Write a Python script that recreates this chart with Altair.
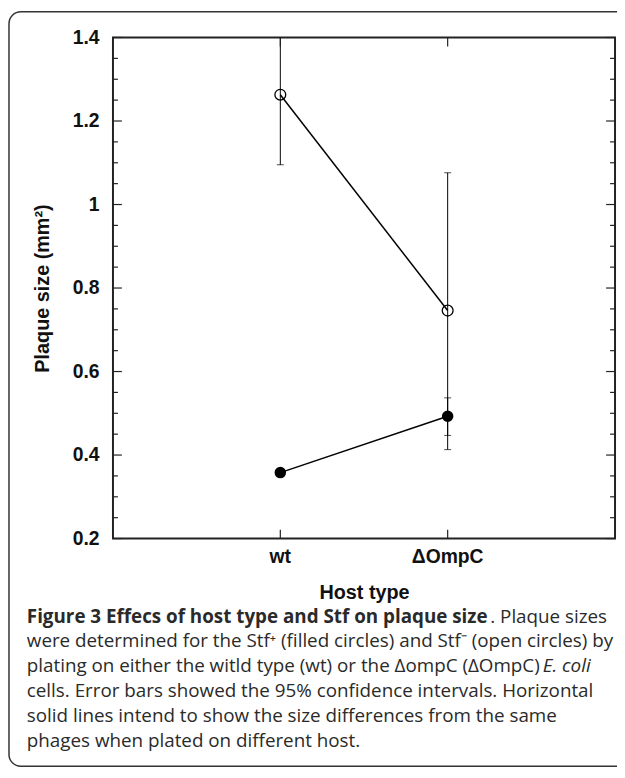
import altair as alt
import pandas as pd

# ---------------- data ----------------
hosts = ["wt", "ΔOmpC"]
# Stf- (open circles)
open_mean = [1.263, 0.746]
open_lo = [1.095, 0.413]
open_hi = [1.431, 1.076]
# Stf+ (filled circles)
filled_mean = [0.358, 0.493]
filled_lo = [0.358, 0.447]
filled_hi = [0.358, 0.537]

y_major = [0.2, 0.4, 0.6, 0.8, 1.0, 1.2, 1.4]
y_minor = [0.25, 0.3, 0.35, 0.45, 0.5, 0.55, 0.65, 0.7, 0.75,
           0.85, 0.9, 0.95, 1.05, 1.1, 1.15, 1.25, 1.3, 1.35]

y_title = "Plaque size (mm²)"
x_title = "Host type"

cap1_bold = "Figure 3 Effecs of host type and Stf on plaque size"
cap1_rest = ". Plaque sizes"
cap2 = "were determined for the Stf⁺ (filled circles) and Stf⁻ (open circles) by"
cap3_rest = "plating on either the witld type (wt) or the ΔompC (ΔOmpC)"
cap3_ital = "E. coli"
cap4 = "cells. Error bars showed the 95% confidence intervals. Horizontal"
cap5 = "solid lines intend to show the size differences from the same"
cap6 = "phages when plated on different host."

# ---------------- tables ----------------
pts = pd.DataFrame({
    "host": hosts * 2,
    "series": ["Stf-"] * 2 + ["Stf+"] * 2,
    "mean": open_mean + filled_mean,
    "lo": open_lo + filled_lo,
    "hi": open_hi + filled_hi,
})
caps = pd.DataFrame({
    "host": hosts * 4,
    "mean": open_lo + open_hi + filled_lo + filled_hi,
})
ymaj = pd.DataFrame({"mean": y_major})
ymin = pd.DataFrame({"mean": y_minor})
xt = pd.DataFrame({"host": hosts})
one = pd.DataFrame({"t": [0]})

W, H = 507, 506
FONT = "Liberation Sans"
CFONT = "Open Sans"
CSIZE = 19

xs = alt.Scale(domain=hosts, padding=1)
ys = alt.Scale(domain=[0.2, 1.4], nice=False, zero=False)

XAX = alt.Axis(title=x_title, labelAngle=0, ticks=False, domain=False,
               labelFont=FONT, labelFontSize=19.5, labelFontWeight="bold",
               labelColor="#111", labelPadding=9,
               titleFont=FONT, titleFontSize=20, titleFontWeight="bold",
               titleColor="#111", titlePadding=17)
YAX = alt.Axis(title=y_title, values=y_major, format=".1~f",
               ticks=False, domain=False, grid=False,
               labelFont=FONT, labelFontSize=19.5, labelFontWeight="bold",
               labelColor="#111", labelPadding=14,
               titleFont=FONT, titleFontSize=20, titleFontWeight="bold",
               titleColor="#111", titlePadding=20)

X = alt.X("host:N", scale=xs, sort=hosts, axis=XAX, title=x_title)


def Y(field):
    return alt.Y(field, scale=ys, axis=YAX, title=y_title)


base = alt.Chart(pts)

err = base.mark_rule(color="black", strokeWidth=1, clip=True).encode(
    x=X, y=Y("lo:Q"), y2="hi:Q")

capm = alt.Chart(caps).mark_tick(color="black", thickness=1, size=7,
                                 orient="horizontal", clip=True).encode(
    x=X, y=Y("mean:Q"))

lines = base.mark_line(color="black", strokeWidth=1.5).encode(
    x=X, y=Y("mean:Q"), detail="series:N")

openpts = base.transform_filter(alt.datum.series == "Stf-").mark_point(
    shape="circle", filled=False, color="black", size=120, strokeWidth=1.3,
    opacity=1).encode(x=X, y=Y("mean:Q"))

fillpts = base.transform_filter(alt.datum.series == "Stf+").mark_point(
    shape="circle", filled=True, color="black", size=135, opacity=1).encode(
    x=X, y=Y("mean:Q"))

# inward ticks
tl_maj = alt.Chart(ymaj).mark_rule(color="#222", strokeWidth=1.2).encode(
    y=Y("mean:Q"), x=alt.value(0), x2=alt.value(9))
tl_min = alt.Chart(ymin).mark_rule(color="#222", strokeWidth=1.2).encode(
    y=Y("mean:Q"), x=alt.value(0), x2=alt.value(5))
tr_maj = alt.Chart(ymaj).mark_rule(color="#222", strokeWidth=1.2).encode(
    y=Y("mean:Q"), x=alt.value(W), x2=alt.value(W - 9))
tr_min = alt.Chart(ymin).mark_rule(color="#222", strokeWidth=1.2).encode(
    y=Y("mean:Q"), x=alt.value(W), x2=alt.value(W - 5))
tb = alt.Chart(xt).mark_rule(color="#222", strokeWidth=1.2).encode(
    x=X, y=alt.value(H), y2=alt.value(H - 9))
tt = alt.Chart(xt).mark_rule(color="#222", strokeWidth=1.2).encode(
    x=X, y=alt.value(0), y2=alt.value(9))

# frame
frame = alt.Chart(one).mark_rect(fillOpacity=0, stroke="#333", strokeWidth=1.5,
                                 cornerRadius=12).encode(
    x=alt.value(-105), x2=alt.value(560), y=alt.value(-26), y2=alt.value(736))


def txt(s, x, y, align="left", weight="normal", style="normal"):
    return alt.Chart(pd.DataFrame({"s": [s]})).mark_text(
        align=align, baseline="alphabetic", font=CFONT, fontSize=CSIZE,
        fontWeight=weight, fontStyle=style, color="#2a2a2a").encode(
        text="s:N", x=alt.value(x), y=alt.value(y))


L = -87
captions = [
    txt(cap1_bold, L, 591, weight="bold"),
    txt(cap1_rest, 381, 591),
    txt(cap2, L, 616),
    txt(cap3_rest, L, 641),
    txt(cap3_ital, 434, 641, style="italic"),
    txt(cap4, L, 666),
    txt(cap5, L, 691),
    txt(cap6, L, 716),
]

chart = alt.layer(
    err, capm, lines, openpts, fillpts,
    tl_maj, tl_min, tr_maj, tr_min, tb, tt, frame, *captions
).properties(
    width=W, height=H,
    autosize=alt.AutoSizeParams(type="none"),
    padding={"left": 106, "top": 26, "right": 2, "bottom": 236},
    background="white",
).configure_view(stroke="#222", strokeWidth=2)

chart.save("out.html", embed_options={"renderer": "svg", "actions": False})
